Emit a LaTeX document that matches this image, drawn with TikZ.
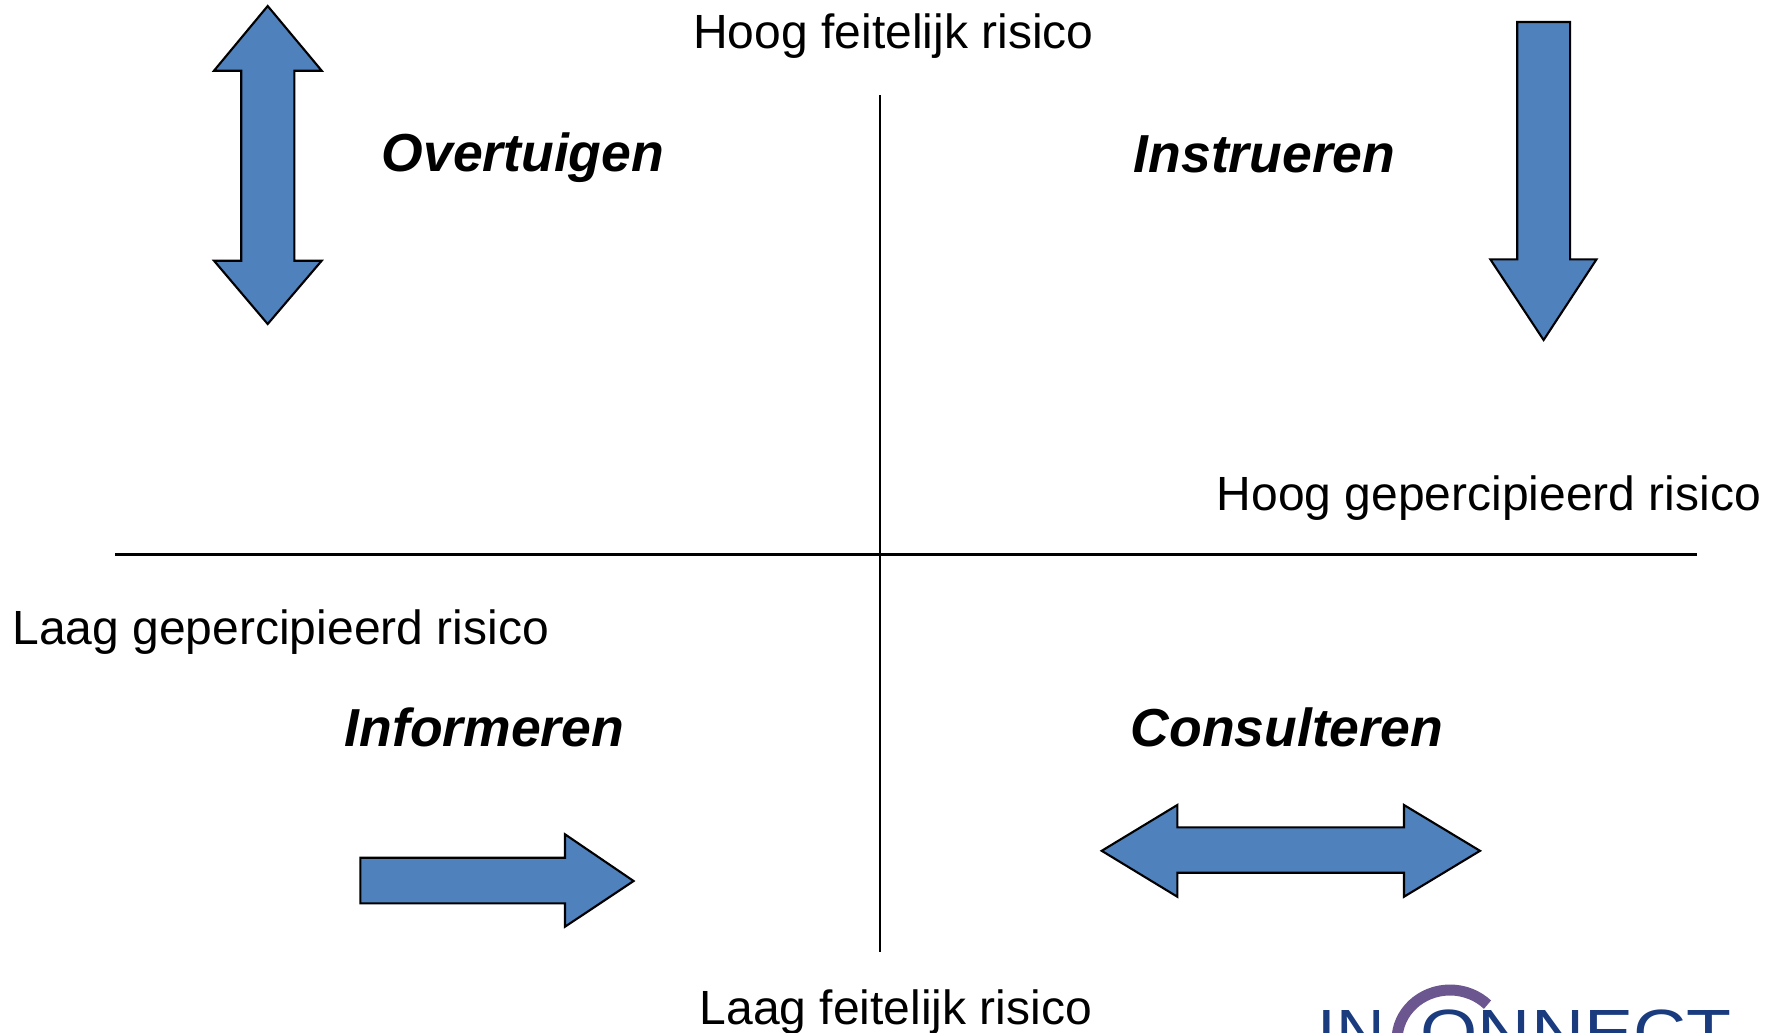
\documentclass[tikz,border=0pt]{standalone}
\usepackage{fontspec}
\setmainfont{Liberation Sans}
\usepackage{graphicx}
\usepackage{xcolor}
\definecolor{arrowblue}{HTML}{4F81BD}
\definecolor{logoblue}{HTML}{1A3B7E}
\definecolor{logopurple}{HTML}{6B5690}

\begin{document}
\begin{tikzpicture}[x=0.1mm, y=-0.1mm,
    lbl/.style={inner sep=0, anchor=base west, font=\fontsize{13.66}{16}\selectfont},
    kw/.style={inner sep=0, anchor=base west, font=\fontsize{15.22}{18}\selectfont\bfseries\itshape},
    blk/.style={fill=arrowblue, draw=black, line width=0.6pt, line join=miter}]
    \useasboundingbox (0,0) rectangle (1780,1032);

    % axes
    \coordinate (top) at (880,95);
    \coordinate (bot) at (880,952);
    \coordinate (lft) at (115,554.5);
    \coordinate (rgt) at (1697,554.5);
    \draw[line width=0.6pt] (top) -- (bot);
    \draw[line width=0.6pt] (lft) -- (rgt);

    % axis labels
    \node[lbl] (hoogf) at (692.6,48.3) {Hoog feitelijk risico};
    \node[lbl] (laagf) at (699,1024) {Laag feitelijk risico};
    \node[lbl] (hoogg) at (1216,510.7) {Hoog gepercipieerd risico};
    \node[lbl] (laagg) at (11.8,644) {Laag gepercipieerd risico};

    % quadrant names
    \node[kw] (overt) at (381,171.7) {Overtuigen};
    \node[kw] (instr) at (1133,172.3) {Instrueren};
    \node[kw] (inform) at (344,746.7) {Informeren};
    \node[kw] (consult) at (1130,746.7) {Consulteren};

    % block arrows
    \draw[blk] (267.7,6) -- (321.7,70.7) -- (294.3,70.7) -- (294.3,260.7) -- (321.7,260.7)
        -- (267.7,324) -- (214,260.7) -- (241.3,260.7) -- (241.3,70.7) -- (214,70.7) -- cycle;
    \draw[blk] (1517.2,22) -- (1570.1,22) -- (1570.1,259.3) -- (1596.5,259.3) -- (1543.6,340)
        -- (1490.3,259.3) -- (1517.2,259.3) -- cycle;
    \draw[blk] (360.4,857.7) -- (565,857.7) -- (565,834.3) -- (633.6,881) -- (565,926.7)
        -- (565,903.3) -- (360.4,903.3) -- cycle;
    \draw[blk] (1101.7,850.8) -- (1177.3,805) -- (1177.3,827.3) -- (1404,827.3) -- (1404,805)
        -- (1480,850.8) -- (1404,896.7) -- (1404,872.7) -- (1177.3,872.7) -- (1177.3,896.7) -- cycle;

    % logo, cut off by the page edge
    \begin{scope}
        \clip (1280,960) rectangle (1780,1032);
        \node[inner sep=0, anchor=base west, text=logoblue, font=\fontsize{18.2}{20}\selectfont] (logoin) at (1317,1054) {\scalebox{1.05}[1]{IN}};
        \node[inner sep=0, anchor=base west, text=logoblue, font=\fontsize{18.2}{20}\selectfont] (logorest) at (1420,1054) {\scalebox{1.15}[1]{ONNECT}};
        \draw[logopurple, line width=1.1mm] (1397,1040) arc[start angle=180, end angle=315, x radius=53, y radius=50];
    \end{scope}
\end{tikzpicture}
\end{document}
